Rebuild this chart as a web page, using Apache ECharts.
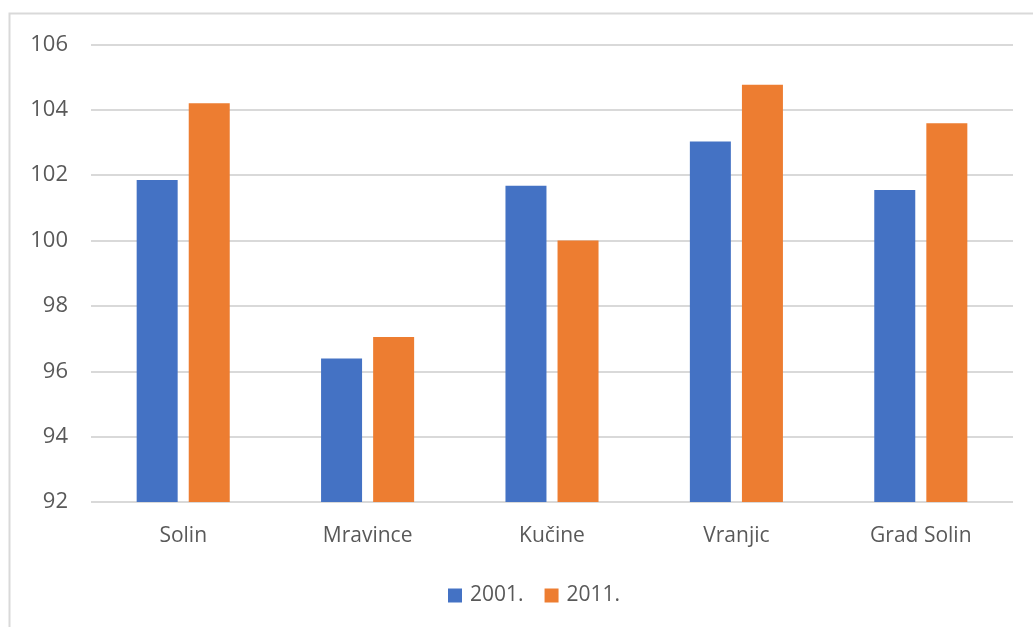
<!DOCTYPE html>
<html><head><meta charset="utf-8">
<script src="https://cdn.jsdelivr.net/npm/echarts@6/dist/echarts.min.js"></script>
<style>html,body{margin:0;padding:0;background:#fff}#c{width:1033px;height:627px}</style>
</head><body><div id="c"></div>
<script>
const categories = ['Solin', 'Mravince', 'Kučine', 'Vranjic', 'Grad Solin'];
const seriesNames = ['2001.', '2011.'];
const values2001 = [101.85, 96.39, 101.68, 103.03, 101.55];
const values2011 = [104.2, 97.05, 100.0, 104.77, 103.59];
const colors = ['#4472C4', '#ED7D31'];
const font = 'Open Sans';
const chart = echarts.init(document.getElementById('c'));
chart.setOption({
  animation: false,
  textStyle: {fontFamily: font},
  graphic: [{type: 'rect', shape: {x: 9.5, y: 13.5, width: 1100, height: 700}, style: {fill: 'none', stroke: '#d9d9d9', lineWidth: 2}, silent: true}],
  grid: {left: 91, right: 20, top: 44.5, bottom: 125, containLabel: false},
  legend: {
    top: 580, left: 443, itemWidth: 14, itemHeight: 14, itemGap: 21,
    icon: 'rect',
    textStyle: {fontSize: 21, color: '#595959', fontFamily: font, padding: [0, 0, 0, 3]},
    data: seriesNames
  },
  xAxis: {
    type: 'category', data: categories,
    axisLine: {show: false}, axisTick: {show: false},
    axisLabel: {fontSize: 21, color: '#595959', margin: 24, fontFamily: font}
  },
  yAxis: {
    type: 'value', min: 92, max: 106, interval: 2,
    axisLine: {show: false}, axisTick: {show: false},
    axisLabel: {fontSize: 22, color: '#595959', margin: 23, fontFamily: font},
    splitLine: {lineStyle: {color: '#d9d9d9', width: 2}}
  },
  series: [
    {name: seriesNames[0], type: 'bar', data: values2001, barWidth: 41, barGap: '27%', itemStyle: {color: colors[0]}},
    {name: seriesNames[1], type: 'bar', data: values2011, barWidth: 41, barGap: '27%', itemStyle: {color: colors[1]}}
  ]
});
</script></body></html>
